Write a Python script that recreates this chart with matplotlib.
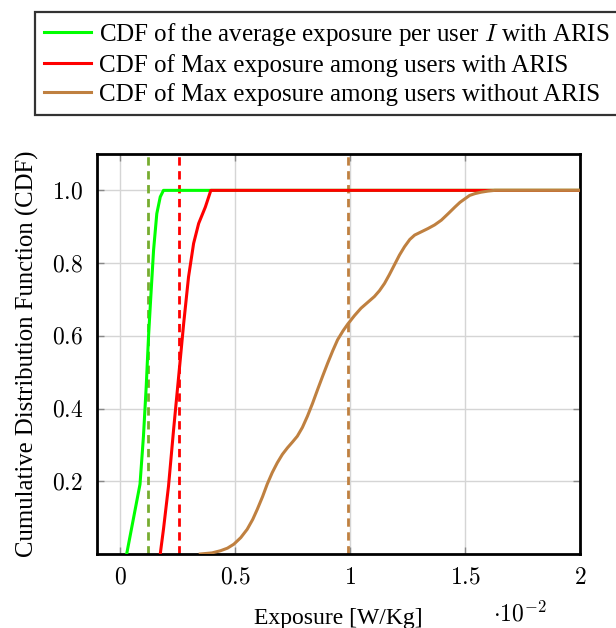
import matplotlib
matplotlib.use("Agg")
import matplotlib.pyplot as plt
from matplotlib.ticker import FuncFormatter

plt.rcParams['font.family'] = ['Liberation Serif', 'DejaVu Serif']
plt.rcParams['mathtext.fontset'] = 'cm'

# exposure in units of 1e-2 W/Kg
avg_x = [0.029, 0.058, 0.087, 0.102, 0.114, 0.124, 0.134, 0.146, 0.160, 0.175, 0.189, 2.0]
avg_y = [0.0, 0.096, 0.192, 0.324, 0.461, 0.598, 0.708, 0.836, 0.936, 0.982, 1.0, 1.0]

max_x = [0.175, 0.189, 0.211, 0.233, 0.255, 0.277, 0.298, 0.320, 0.342, 0.371, 0.395, 2.0]
max_y = [0.0, 0.068, 0.187, 0.342, 0.488, 0.635, 0.762, 0.854, 0.909, 0.954, 1.0, 1.0]

nor_x = [0.349, 0.40, 0.437, 0.467, 0.495, 0.525, 0.553, 0.577, 0.597, 0.62, 0.640,
         0.662, 0.684, 0.706, 0.728, 0.75, 0.771, 0.793, 0.815, 0.837, 0.859,
         0.881, 0.903, 0.925, 0.946, 0.97, 0.99, 1.02, 1.048, 1.077, 1.106,
         1.128, 1.15, 1.171, 1.193, 1.215, 1.237, 1.26, 1.281, 1.31, 1.339,
         1.368, 1.397, 1.427, 1.456, 1.478, 1.5, 1.52, 1.543, 1.57, 1.6, 1.63, 2.0]
nor_y = [0.0, 0.003, 0.009, 0.016, 0.027, 0.045, 0.068, 0.095, 0.123, 0.158, 0.192,
         0.224, 0.251, 0.274, 0.292, 0.308, 0.324, 0.348, 0.379, 0.414, 0.452,
         0.489, 0.525, 0.559, 0.589, 0.614, 0.632, 0.656, 0.676, 0.692, 0.708,
         0.724, 0.744, 0.768, 0.795, 0.822, 0.845, 0.865, 0.877, 0.886, 0.895,
         0.905, 0.918, 0.936, 0.954, 0.967, 0.977, 0.986, 0.991, 0.995, 0.998, 1.0, 1.0]

# mean values (dashed verticals)
mean_avg = 0.122
mean_max = 0.258
mean_nor = 0.99

labels = ["CDF of the average exposure per user $I$ with ARIS",
          "CDF of Max exposure among users with ARIS",
          "CDF of Max exposure among users without ARIS"]

c_green = '#00ff00'
c_red = '#ff0000'
c_brown = '#bf8040'
fs = 17

fig = plt.figure(figsize=(6.16, 6.28), dpi=100)
ax = fig.add_axes([97/616, 1-554/628, (580-97)/616, (554-154)/628])

ax.plot(avg_x, avg_y, color=c_green, lw=2.2, label=labels[0], zorder=3)
ax.plot(max_x, max_y, color=c_red, lw=2.2, label=labels[1], zorder=3)
ax.plot(nor_x, nor_y, color=c_brown, lw=2.2, label=labels[2], zorder=3)

dash = (0, (3, 2))
ax.axvline(mean_avg, color='#77ac30', lw=2, ls=dash, zorder=2)
ax.axvline(mean_max, color=c_red, lw=2, ls=dash, zorder=2)
ax.axvline(mean_nor, color=c_brown, lw=2, ls=dash, zorder=2)

ax.set_xlim(-0.1, 2.0)
ax.set_ylim(0, 1.1)
ax.set_xticks([0, 0.5, 1, 1.5, 2])
ax.set_yticks([0.2, 0.4, 0.6, 0.8, 1.0])
ax.xaxis.set_major_formatter(FuncFormatter(lambda v, p: f'${v:g}$'))
ax.yaxis.set_major_formatter(FuncFormatter(lambda v, p: f'${v:.1f}$'))
ax.grid(True, color='#d5d5d5', lw=1.0)
ax.set_axisbelow(True)
ax.tick_params(direction='in', length=5, width=1, color='#888888',
               labelsize=fs, top=True, right=True, pad=10)
for s in ax.spines.values():
    s.set_linewidth(2)

ax.set_xlabel("Exposure [W/Kg]", fontsize=fs, labelpad=14)
ax.set_ylabel("Cumulative Distribution Function (CDF)", fontsize=17.8, labelpad=9)
fig.text(520/616, 1-621/628, r'$\cdot 10^{-2}$', fontsize=fs, ha='center', va='baseline')

leg = fig.legend(loc='upper left', bbox_to_anchor=(35/616, 1-12/628),
                 fontsize=18, frameon=True, fancybox=False, edgecolor='black',
                 borderaxespad=0, handlelength=1.9, labelspacing=0.25,
                 handletextpad=0.3, borderpad=0.35)
leg.get_frame().set_linewidth(1.6)

fig.savefig("out.png", dpi=100)
